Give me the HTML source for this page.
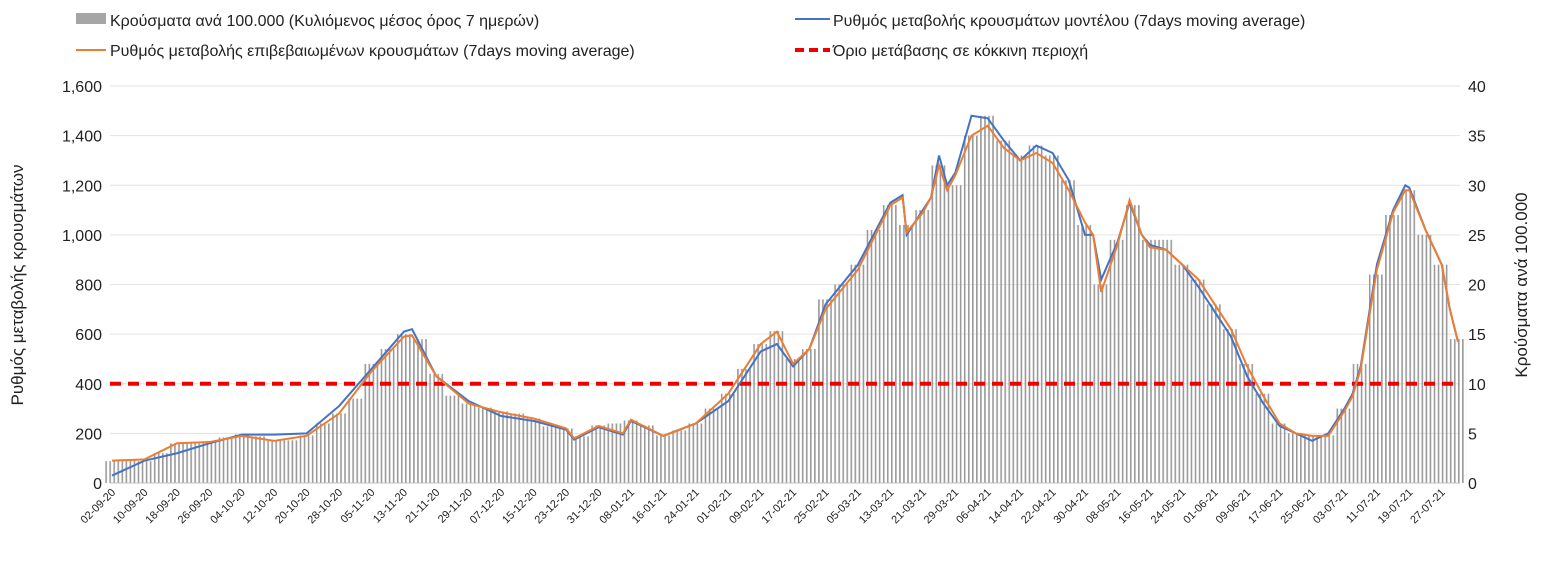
<!DOCTYPE html>
<html><head><meta charset="utf-8"><style>
body{margin:0;background:#fff;font-family:"Liberation Sans",sans-serif}
svg{display:block}
</style></head><body>
<svg id="chart" width="1542" height="577" xmlns="http://www.w3.org/2000/svg" font-family="Liberation Sans, DejaVu Sans, sans-serif">
<defs><pattern id="stripes" patternUnits="userSpaceOnUse" width="4.05" height="10"><rect x="0" y="0" width="1.6" height="10" fill="#9a9a9a"/></pattern></defs>
<g id="legend">
 <g><rect x="76" y="13" width="30" height="11" fill="#a6a6a6"/><text x="110" y="26" font-size="16" fill="#222">Κρούσματα ανά 100.000 (Κυλιόμενος μέσος όρος 7 ημερών)</text></g>
 <g><line x1="795" y1="19" x2="830" y2="19" stroke="#4472c4" stroke-width="2"/><text x="833" y="26" font-size="16" fill="#222">Ρυθμός μεταβολής κρουσμάτων μοντέλου (7days moving average)</text></g>
 <g><line x1="76" y1="50" x2="106" y2="50" stroke="#ed7d31" stroke-width="2"/><text x="110" y="56" font-size="16" fill="#222">Ρυθμός μεταβολής επιβεβαιωμένων κρουσμάτων (7days moving average)</text></g>
 <g><line x1="795" y1="50" x2="830" y2="50" stroke="#e00" stroke-width="4" stroke-dasharray="9,5"/><text x="833" y="56" font-size="16" fill="#222">Όριο μετάβασης σε κόκκινη περιοχή</text></g>
</g>
<g id="grid"></g><g id="bars"></g><g id="lines"></g><g id="axes"></g>
<text transform="translate(23,285) rotate(-90)" text-anchor="middle" font-size="17" fill="#222">Ρυθμός μεταβολής κρουσμάτων</text>
<text transform="translate(1527,285) rotate(-90)" text-anchor="middle" font-size="17" fill="#222">Κρούσματα ανά 100.000</text>
</svg>
<script>
const barDays=[0,4,8,12,16,20,24,28,32,36,40,44,48,52,56,60,64,68,72,76,80,84,88,92,96,100,104,108,112,116,120,124,128,132,136,140,144,148,152,156,160,164,168,172,176,180,184,188,192,196,200,204,208,212,216,220,224,228,232,236,240,244,248,252,256,260,264,268,272,276,280,284,288,292,296,300,304,308,312,316,320,324,328,332];
const barValues=[2.2,2.3,2.2,3,4,4,4.2,4.6,4.9,4.7,4.3,4.3,4.8,6,7,8.5,12,13.5,15,14.5,11,8.8,8,7.6,7.2,7,6.5,5.7,5.5,4.7,5.8,6,6.3,5.8,4.8,5.3,6,7.5,9,11.5,14,15.3,12.5,13.5,18.5,20,22,25.5,28,26,27.5,32,30,35,37,34.5,33,34,33,30.5,26,20,24.5,28,24.5,24.5,22,20.5,18,15.5,12,9,6,5,4.8,4.8,7.5,12,21,27,29.5,25,22,14.5];
const lineDays=[0,8,16,24,32,40,48,56,64,72,74,80,88,96,104,112,114,120,126,128,136,144,152,160,164,168,172,176,184,192,195,196,200,202,204,206,208,212,216,220,224,228,232,236,240,242,244,248,251,254,256,260,264,268,272,276,280,284,288,292,296,300,304,306,308,312,316,319,320,324,328,330,332];
const modelRate=[30,90,120,160,195,195,200,310,460,610,620,430,330,270,250,215,175,225,195,250,190,240,330,530,560,470,540,720,880,1130,1160,1000,1100,1150,1320,1200,1250,1480,1470,1380,1300,1360,1330,1220,1000,1000,820,970,1130,1000,960,940,880,790,690,590,430,320,230,200,170,200,300,360,470,880,1100,1200,1190,1020,880,700,570];
const confirmedRate=[90,95,160,165,190,170,190,280,450,590,595,430,320,285,260,220,180,230,200,255,190,240,360,560,610,480,540,700,860,1120,1150,1010,1090,1150,1280,1180,1240,1400,1440,1350,1300,1330,1290,1180,1050,1000,770,960,1140,1000,950,940,880,820,720,620,470,350,240,200,190,190,290,350,460,860,1090,1180,1180,1020,880,700,570];
const leftTicks=[0,200,400,600,800,1000,1200,1400,1600];
const rightTicks=[0,5,10,15,20,25,30,35,40];
const threshold=[400];
const dateLabels=["02-09-20","10-09-20","18-09-20","26-09-20","04-10-20","12-10-20","20-10-20","28-10-20","05-11-20","13-11-20","21-11-20","29-11-20","07-12-20","15-12-20","23-12-20","31-12-20","08-01-21","16-01-21","24-01-21","01-02-21","09-02-21","17-02-21","25-02-21","05-03-21","13-03-21","21-03-21","29-03-21","06-04-21","14-04-21","22-04-21","30-04-21","08-05-21","16-05-21","24-05-21","01-06-21","09-06-21","17-06-21","25-06-21","03-07-21","11-07-21","19-07-21","27-07-21"];
const X0=110,X1=1460,Y0=483,Y1=86,NDAYS=333;
const x=d=>X0+(d+0.5)*(X1-X0)/NDAYS;
const yL=v=>Y0-v*(Y0-Y1)/1600;
const yR=v=>Y0-v*(Y0-Y1)/40;
const NS="http://www.w3.org/2000/svg";
function mk(tag,attrs,parent){const e=document.createElementNS(NS,tag);for(const k in attrs)e.setAttribute(k,attrs[k]);document.getElementById(parent).appendChild(e);return e;}
leftTicks.forEach((t,i)=>{
 if(t>0){const g=mk('line',{x1:X0,x2:X1,y1:yL(t),y2:yL(t),stroke:'#e3e3e3','stroke-width':1},'grid');
 
 }
 const l=mk('text',{x:X0-8,y:yL(t)+6,'text-anchor':'end','font-size':16,fill:'#222'},'axes');l.textContent=t.toLocaleString('en-US');
 
 
});
rightTicks.forEach(t=>{const l=mk('text',{x:X1+8,y:yR(t)+6,'font-size':16,fill:'#222'},'axes');l.textContent=t;
 
 });
const bw=(X1-X0)/NDAYS*4;
barDays.forEach((d,i)=>{const v=barValues[i];const r=mk('rect',{x:x(d)-bw/2,y:yR(v),width:bw,height:Y0-yR(v),fill:'url(#stripes)'},'bars');
 
 });
const ax=mk('line',{x1:X0,x2:X1,y1:Y0,y2:Y0,stroke:'#bfbfbf'},'axes');


dateLabels.forEach((s,i)=>{const d=i*8;const t=mk('text',{transform:`translate(${x(d)+4},${Y0+10}) rotate(-45)`,'text-anchor':'end','font-size':11,fill:'#222'},'axes');t.textContent=s;
 
 });
const th=mk('line',{x1:X0,x2:X1,y1:yL(threshold[0]),y2:yL(threshold[0]),stroke:'#e00','stroke-width':4,'stroke-dasharray':'11,7'},'lines');


const pb=mk('polyline',{points:lineDays.map((d,i)=>x(d)+','+yL(modelRate[i])).join(' '),fill:'none',stroke:'#4472c4','stroke-width':2},'lines');


const po=mk('polyline',{points:lineDays.map((d,i)=>x(d)+','+yL(confirmedRate[i])).join(' '),fill:'none',stroke:'#ed7d31','stroke-width':2},'lines');


</script>
</body></html>
